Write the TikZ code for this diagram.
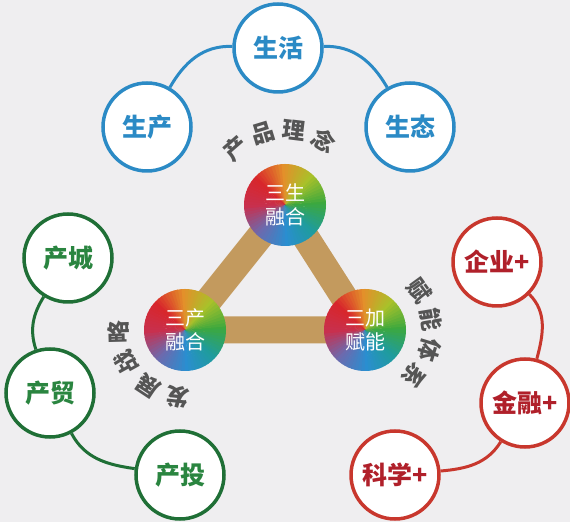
\documentclass[tikz,border=0pt]{standalone}
\usepackage{fontspec}
\setmainfont{Noto Sans CJK SC}
\usetikzlibrary{backgrounds}

\definecolor{bgray}{HTML}{EFEEF0}
\definecolor{ringblue}{HTML}{2B8AC5}
\definecolor{ringgreen}{HTML}{1F6F36}
\definecolor{textgreen}{HTML}{2A8540}
\definecolor{ringred}{HTML}{C8372D}
\definecolor{textred}{HTML}{B0202A}
\definecolor{barbrown}{HTML}{C39A5E}
\definecolor{textgray}{HTML}{555555}
% colours round the balls, every 45 degrees
\definecolor{cone0}{HTML}{3CA83E}
\definecolor{cone1}{HTML}{A9C12A}
\definecolor{cone2}{HTML}{E3902A}
\definecolor{cone3}{HTML}{D8262B}
\definecolor{cone4}{HTML}{C8304E}
\definecolor{cone5}{HTML}{6C6AAE}
\definecolor{cone6}{HTML}{2A8ED0}
\definecolor{cone7}{HTML}{1F9C9C}
\definecolor{cone8}{HTML}{3CA83E}

\tikzset{
  ring/.style={circle, fill=white, line width=3.5pt, minimum size=88pt, inner sep=0pt,
    font=\bfseries\fontsize{25}{25}\selectfont},
  bluering/.style={ring, draw=ringblue, text=ringblue},
  greenring/.style={ring, draw=ringgreen, text=textgreen},
  redring/.style={ring, draw=ringred, text=textred},
  ball/.style={circle, minimum size=82pt, inner sep=0pt, align=center, text=white,
    font=\fontsize{20}{24}\selectfont,
    path picture={
      \foreach \a in {0,5,...,355} {
        \pgfmathtruncatemacro\s{\a/45}
        \pgfmathtruncatemacro\t{\s+1}
        \pgfmathtruncatemacro\p{100-(\a-45*\s)*100/45}
        \fill[cone\s!\p!cone\t] (path picture bounding box.center) -- ++(\a:50)
          arc[start angle=\a, end angle=\a+6, radius=50] -- cycle;
      }
    }},
  link/.style={line width=3pt},
  arctext/.style={text=textgray, inner sep=0pt, font=\bfseries\fontsize{23}{23}\selectfont}
}

\begin{document}
\begin{tikzpicture}[x=1pt, y=1pt]
  \useasboundingbox (0,0) rectangle (570,522);

  % centre
  \node[ball] (shengball) at (285,317) {三生\\融合};
  \node[ball] (chanball) at (185,192) {三产\\融合};
  \node[ball] (jiaball) at (365,192) {三加\\赋能};

  % top
  \node[bluering] (huo) at (278,474) {生活};
  \node[bluering] (shengchan) at (147,395) {生产};
  \node[bluering] (taistate) at (410,395) {生态};
  \draw[link, ringblue] (shengchan) to[out=60, in=178] (huo);
  \draw[link, ringblue] (huo) to[out=2, in=120] (taistate);

  % left
  \node[greenring] (cheng) at (68,264) {产城};
  \node[greenring] (mao) at (50,129) {产贸};
  \node[greenring] (tou) at (180,47) {产投};
  \draw[link, ringgreen] (cheng) to[out=-122, in=108] (mao);
  \draw[link, ringgreen] (mao) to[out=-62, in=172] (tou);

  % right
  \node[redring] (qiye) at (497,260) {企业+};
  \node[redring] (jinrong) at (525,119) {金融+};
  \node[redring] (kexue) at (395,47) {科学+};
  \draw[link, ringred] (qiye) to[out=-45, in=75] (jinrong);
  \draw[link, ringred] (jinrong) to[out=-122, in=5] (kexue);

  % curved labels
  \foreach \ch [count=\i, evaluate=\i as \ang using 131-24*(\i-1)] in {产,品,理,念}
    \node[arctext, rotate=\ang-90] (idea\i) at ([shift={(\ang:75)}]shengball.center) {\ch};
  \foreach \ch [count=\i, evaluate=\i as \ang using 36-26.5*(\i-1)] in {赋,能,体,系}
    \node[arctext, rotate=\ang-90] (sys\i) at ([shift={(\ang:67)}]jiaball.center) {\ch};
  \foreach \ch [count=\i, evaluate=\i as \ang using 264-27.5*(\i-1)] in {发,展,战,略}
    \node[arctext, rotate=\ang-90] (plan\i) at ([shift={(\ang:67)}]chanball.center) {\ch};

  \begin{scope}[on background layer]
    \fill[bgray] (0,0) rectangle (570,522);
    \draw[barbrown, line width=27pt] (shengball.center) -- (chanball.center) -- (jiaball.center) -- cycle;
  \end{scope}
\end{tikzpicture}
\end{document}
